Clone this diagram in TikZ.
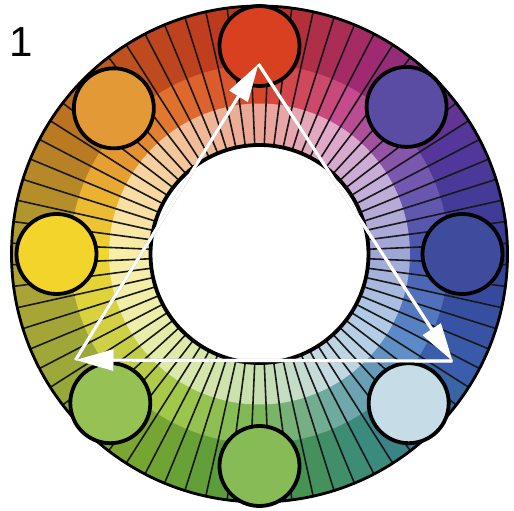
\documentclass[tikz,border=0pt]{standalone}
\usepackage{fontspec}
\setmainfont{Liberation Sans}
\usetikzlibrary{arrows.meta}
% key colours: outer (O), middle (M), inner (I) bands, every 30 degrees from east
\definecolor{O0}{HTML}{333F97}\definecolor{M0}{HTML}{4656AE}\definecolor{I0}{HTML}{9EA6D6}
\definecolor{O1}{HTML}{55369A}\definecolor{M1}{HTML}{7A58B0}\definecolor{I1}{HTML}{C2AED8}
\definecolor{O2}{HTML}{A02A72}\definecolor{M2}{HTML}{C64A8E}\definecolor{I2}{HTML}{E2A8C8}
\definecolor{O3}{HTML}{BE321E}\definecolor{M3}{HTML}{D8462A}\definecolor{I3}{HTML}{EBA496}
\definecolor{O4}{HTML}{BE4A1E}\definecolor{M4}{HTML}{E0702E}\definecolor{I4}{HTML}{F2BC98}
\definecolor{O5}{HTML}{BA7A22}\definecolor{M5}{HTML}{E6A032}\definecolor{I5}{HTML}{F8D8A2}
\definecolor{O6}{HTML}{B0A232}\definecolor{M6}{HTML}{F0D630}\definecolor{I6}{HTML}{F8EEA6}
\definecolor{O7}{HTML}{9CA83A}\definecolor{M7}{HTML}{CED046}\definecolor{I7}{HTML}{ECEEAA}
\definecolor{O8}{HTML}{76A632}\definecolor{M8}{HTML}{A2C84A}\definecolor{I8}{HTML}{D8E8AA}
\definecolor{O9}{HTML}{4E983E}\definecolor{M9}{HTML}{7CB65A}\definecolor{I9}{HTML}{C6DEB0}
\definecolor{O10}{HTML}{3A8A7E}\definecolor{M10}{HTML}{6EA8AC}\definecolor{I10}{HTML}{C4DAE0}
\definecolor{O11}{HTML}{3A5EAC}\definecolor{M11}{HTML}{5C8AC8}\definecolor{I11}{HTML}{B0CAE6}
% swatch colours
\definecolor{swRed}{HTML}{D8401F}
\definecolor{swViolet}{HTML}{5A4CA2}
\definecolor{swBlue}{HTML}{3E4C9E}
\definecolor{swIce}{HTML}{C6DCE6}
\definecolor{swGreen}{HTML}{86BB56}
\definecolor{swLime}{HTML}{96C255}
\definecolor{swYellow}{HTML}{F2D42A}
\definecolor{swOrange}{HTML}{E39A36}
\tikzset{
  swatch/.style={circle, draw=black, line width=3.8pt, minimum size=80pt, inner sep=0pt},
  spoke/.style={draw=black!90, line width=1.6pt},
  tri/.style={draw=white, line width=3.2pt, -{Triangle[length=38pt,width=21pt]}},
  trishadow/.style={draw=black!45, line width=3.2pt, -{Triangle[length=38pt,width=21pt]}},
  numlabel/.style={font=\fontsize{42}{42}\selectfont, inner sep=0pt}
}
\begin{document}
\begin{tikzpicture}[x=1pt,y=1pt]
\useasboundingbox[fill=white] (-259.5,-257) rectangle (254.5,254);
% colour sectors
\foreach \i in {0,...,71}{
  \pgfmathtruncatemacro\t{\i*5}
  \pgfmathtruncatemacro\k{floor(\t/30)}
  \pgfmathtruncatemacro\kk{mod(\k+1,12)}
  \pgfmathtruncatemacro\p{100-100*mod(\t,30)/30}
  \pgfmathsetmacro\aa{\t-2.5}
  \pgfmathsetmacro\ab{\t+2.5}
  \colorlet{cO}{O\k!\p!O\kk}
  \colorlet{cM}{M\k!\p!M\kk}
  \colorlet{cI}{I\k!\p!I\kk}
  \fill[cO] (\aa:189) arc[start angle=\aa,end angle=\ab,radius=189] -- (\ab:249) arc[start angle=\ab,end angle=\aa,radius=249] -- cycle;
  \fill[cM] (\aa:150) arc[start angle=\aa,end angle=\ab,radius=150] -- (\ab:189.5) arc[start angle=\ab,end angle=\aa,radius=189.5] -- cycle;
  \fill[cI] (\aa:106) arc[start angle=\aa,end angle=\ab,radius=106] -- (\ab:150.5) arc[start angle=\ab,end angle=\aa,radius=150.5] -- cycle;
}
% spokes
\foreach \i in {0,...,71}{
  \draw[spoke] (\i*5+2.5:107) -- (\i*5+2.5:248);
}
% outer rim and inner hole
\draw[line width=2.8pt] (0,0) circle[radius=248];
\fill[white] (0,0) circle[radius=109];
\draw[line width=3.8pt] (0,0) circle[radius=109];
% swatches
\node[swatch, fill=swRed]    (s90)  at (90:208)  {};
\node[swatch, fill=swViolet] (s45)  at (45:208)  {};
\node[swatch, fill=swBlue]   (s0)   at (0:203)   {};
\node[swatch, fill=swIce]    (s315) at (-45:211) {};
\node[swatch, fill=swGreen]  (s270) at (-90:212) {};
\node[swatch, fill=swLime]   (s225) at (-135:211){};
\node[swatch, fill=swYellow] (s180) at (180:203) {};
\node[swatch, fill=swOrange] (s135) at (135:206) {};
% triangle
\coordinate (T) at (-1,190);
\coordinate (R) at (193,-107);
\coordinate (L) at (-184,-106);
\begin{scope}[shift={(1.2,-1.6)}]
\draw[trishadow] (L) -- (T);
\draw[trishadow] (T) -- (R);
\draw[trishadow] (R) -- (L);
\end{scope}
\draw[tri] (L) -- (T);
\draw[tri] (T) -- (R);
\draw[tri] (R) -- (L);
% label
\node[numlabel] (lab) at (-238,212) {1};
\end{tikzpicture}
\end{document}
